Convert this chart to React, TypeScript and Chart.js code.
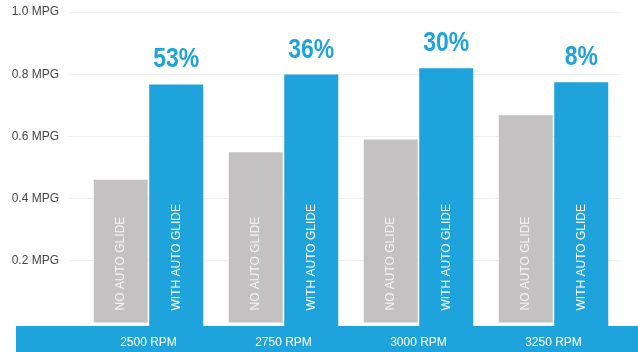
import React, { useEffect, useRef } from "react";
import { Chart, registerables } from "chart.js";

Chart.register(...registerables);

const categories = ["2500 RPM", "2750 RPM", "3000 RPM", "3250 RPM"];
const noAutoGlide = [0.461, 0.549, 0.59, 0.668];
const withAutoGlide = [0.767, 0.799, 0.819, 0.774];
const gains = ["53%", "36%", "30%", "8%"];
const seriesNames = ["NO AUTO GLIDE", "WITH AUTO GLIDE"];

const BLUE = "#1fa3dd";
const GRAY = "#c3c1c2";

const decorPlugin = {
  id: "decor",
  beforeDraw(chart: any) {
    const { ctx, chartArea } = chart;
    ctx.save();
    ctx.fillStyle = BLUE;
    ctx.fillRect(16, chartArea.bottom + 3, chart.width - 16, chart.height - chartArea.bottom - 3);
    ctx.restore();
  },
  afterDatasetsDraw(chart: any) {
    const { ctx, chartArea } = chart;
    ctx.save();
    chart.data.datasets.forEach((ds: any, di: number) => {
      const meta = chart.getDatasetMeta(di);
      meta.data.forEach((el: any, i: number) => {
        const w = el.width;
        if (di === 1) {
          ctx.fillStyle = BLUE;
          ctx.fillRect(el.x - w / 2, el.base - 1, w, chartArea.bottom + 5 - el.base);
        }
        ctx.save();
        ctx.translate(el.x, el.base - 12);
        ctx.rotate(-Math.PI / 2);
        ctx.font = '12px "Liberation Sans", Arial, sans-serif';
        ctx.fillStyle = di === 0 ? "#f4f4f4" : "#ffffff";
        ctx.textAlign = "left";
        ctx.textBaseline = "middle";
        ctx.fillText(ds.label, 0, 0);
        ctx.restore();
        if (di === 1) {
          ctx.save();
          ctx.translate(el.x, el.y - 17);
          ctx.scale(0.82, 1);
          ctx.font = 'bold 28px "Liberation Sans", Arial, sans-serif';
          ctx.fillStyle = BLUE;
          ctx.textAlign = "center";
          ctx.textBaseline = "alphabetic";
          ctx.fillText(gains[i], 0, 0);
          ctx.restore();
        }
      });
    });
    ctx.restore();
  },
};

export default function App() {
  const ref = useRef<HTMLCanvasElement | null>(null);
  useEffect(() => {
    if (!ref.current) return;
    const chart = new Chart(ref.current, {
      type: "bar",
      data: {
        labels: categories,
        datasets: [
          {
            label: seriesNames[0],
            data: noAutoGlide,
            backgroundColor: GRAY,
            categoryPercentage: 0.822,
            barPercentage: 0.973,
          },
          {
            label: seriesNames[1],
            data: withAutoGlide,
            backgroundColor: BLUE,
            categoryPercentage: 0.822,
            barPercentage: 0.973,
          },
        ],
      },
      options: {
        responsive: false,
        animation: false,
        devicePixelRatio: 1,
        layout: { padding: { top: 12, right: 17, left: 0, bottom: 0 } },
        plugins: {
          legend: { display: false },
          tooltip: { enabled: false },
        },
        scales: {
          x: {
            grid: { display: false, drawTicks: false },
            border: { display: false },
            ticks: {
              color: "#ffffff",
              padding: 12,
              font: { family: '"Liberation Sans", Arial, sans-serif', size: 12 },
            },
            afterFit(scale: any) {
              scale.height = 29;
            },
          },
          y: {
            min: 0,
            max: 1,
            border: { display: false },
            grid: {
              color: (c: any) => (c.tick && c.tick.value === 0 ? "rgba(0,0,0,0)" : "#f0f0f0"),
              tickLength: 13,
            },
            ticks: {
              stepSize: 0.2,
              padding: 9,
              color: "#444444",
              font: { family: '"Liberation Sans", Arial, sans-serif', size: 12 },
              callback: (v: any) => (Number(v) === 0 ? "" : Number(v).toFixed(1) + " MPG"),
            },
            afterFit(scale: any) {
              scale.width = 81;
              scale.paddingTop = 0;
              scale.paddingBottom = 0;
            },
          },
        },
      },
      plugins: [decorPlugin],
    });
    return () => chart.destroy();
  }, []);
  return (
    <div style={{ position: "fixed", left: 0, top: 0, width: 638, height: 352, background: "#fff" }}>
      <canvas ref={ref} width={638} height={352} style={{ width: 638, height: 352, display: "block" }} />
    </div>
  );
}
